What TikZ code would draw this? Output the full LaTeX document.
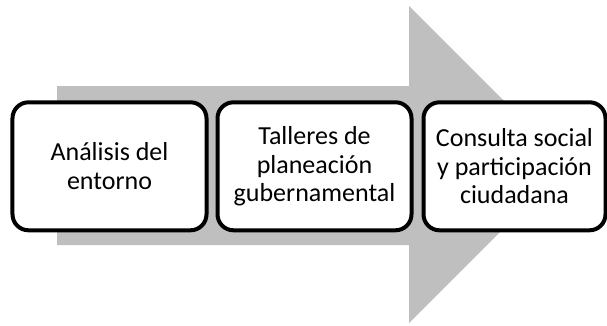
\documentclass[tikz,border=0pt]{standalone}
\usepackage{fontspec}
\setmainfont{Carlito}
\begin{document}
\begin{tikzpicture}[x=1bp,y=-1bp,
  stepbox/.style={draw=black, line width=4bp, rounded corners=16bp, fill=white,
    align=center, inner sep=0pt, font=\fontsize{26bp}{28.5bp}\selectfont,
    minimum height=128bp},
  arrowfill/.style={fill=gray!50, draw=none}]
\useasboundingbox (0,0) rectangle (607,325);
% big background arrow
\fill[arrowfill] (57,86) -- (409,86) -- (409,6) -- (567.5,164.5) -- (409,323) -- (409,245) -- (57,245) -- cycle;
% boxes
\node[stepbox, minimum width=194bp] (a) at (109.5,166.3) {Análisis del\\entorno};
\node[stepbox, minimum width=194bp] (b) at (314.5,166.3) {Talleres de\\planeación\\gubernamental};
\node[stepbox, minimum width=182bp] (c) at (514.5,166.3) {Consulta social\\y participación\\ciudadana};
\end{tikzpicture}
\end{document}
